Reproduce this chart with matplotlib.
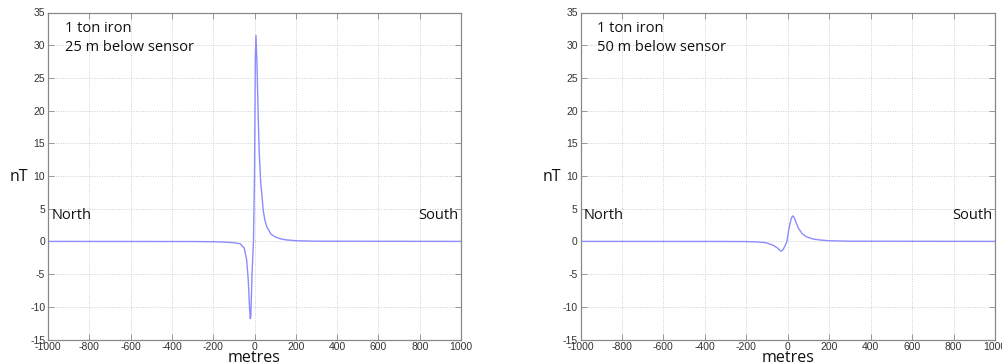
import matplotlib.pyplot as plt

plt.rcParams['axes.unicode_minus'] = False

# values (metres, nT)
x_25m = [-1000, -300, -200, -150, -100, -70, -50, -38, -30, -25, -21, -18, -15, -12, -8, -5,
         0, 4, 7, 12, 18, 23, 30, 35, 42, 50, 60, 80, 100, 125, 150, 200, 300, 1000]
nt_25m = [0, -0.02, -0.05, -0.1, -0.2, -0.35, -1.0, -2.8, -6.0, -9.5, -11.8, -11.5, -8.5, -5.0, -2.0, 0.0,
          10.0, 28.0, 31.5, 27.0, 19.0, 13.5, 9.0, 7.4, 4.8, 3.3, 2.2, 1.1, 0.7, 0.4, 0.25, 0.1, 0.03, 0]

x_50m = [-1000, -300, -200, -150, -118, -100, -70, -50, -40, -33, -25, -20, -15, -10, -4,
         0, 5, 10, 18, 25, 32, 40, 50, 69, 90, 124, 160, 200, 300, 1000]
nt_50m = [0, -0.01, -0.03, -0.08, -0.15, -0.25, -0.6, -1.0, -1.3, -1.5, -1.35, -1.1, -0.8, -0.45, 0.0,
          0.8, 1.8, 2.6, 3.6, 3.9, 3.6, 2.9, 2.1, 1.2, 0.7, 0.35, 0.2, 0.1, 0.03, 0]

labels = ["25 m below sensor", "50 m below sensor"]
line_color = "#8c8cff"
font = "Open Sans"

fig = plt.figure(figsize=(10.02, 3.64), dpi=100)
W, H = 1002, 364
ax1 = fig.add_axes([48 / W, 1 - 339.5 / H, 413 / W, 327 / H])
ax2 = fig.add_axes([580.5 / W, 1 - 339.5 / H, 414.5 / W, 327 / H])

for ax, xs, ys, lab in [(ax1, x_25m, nt_25m, labels[0]), (ax2, x_50m, nt_50m, labels[1])]:
    ax.plot(xs, ys, color=line_color, lw=1.0)
    ax.set_xlim(-1000, 1000)
    ax.set_ylim(-15, 35)
    ax.set_xticks(range(-1000, 1001, 200))
    ax.set_yticks(range(-15, 36, 5))
    ax.grid(True, color="#cfcfcf", linestyle=(0, (1, 1.5)), lw=0.7)
    ax.tick_params(direction="in", length=4, width=0.6, color="#888888",
                   labelsize=7.5, labelcolor="#333333", pad=2, top=True, right=True)
    for t in ax.get_xticklabels() + ax.get_yticklabels():
        t.set_family("Liberation Sans")
    for s in ax.spines.values():
        s.set_color("#888888")
        s.set_linewidth(0.9)
    ax.text(0.04, 0.975, "1 ton iron\n" + lab, transform=ax.transAxes, fontsize=10.5,
            family=font, va="top", ha="left", linespacing=1.35, color="#111111")
    ax.text(0.008, 0.378, "North", transform=ax.transAxes, fontsize=10.5, family=font,
            va="center", ha="left", color="#111111")
    ax.text(0.993, 0.378, "South", transform=ax.transAxes, fontsize=10.5, family=font,
            va="center", ha="right", color="#111111")
    ax.set_xlabel("metres", fontsize=11.5, family=font, labelpad=-2, color="#111111")
    ax.set_ylabel("nT", fontsize=11.5, family=font, rotation=0, color="#111111",
                  va="center", ha="center")
    ax.yaxis.set_label_coords(-0.07, 0.497)

fig.savefig("out.png", dpi=100)
